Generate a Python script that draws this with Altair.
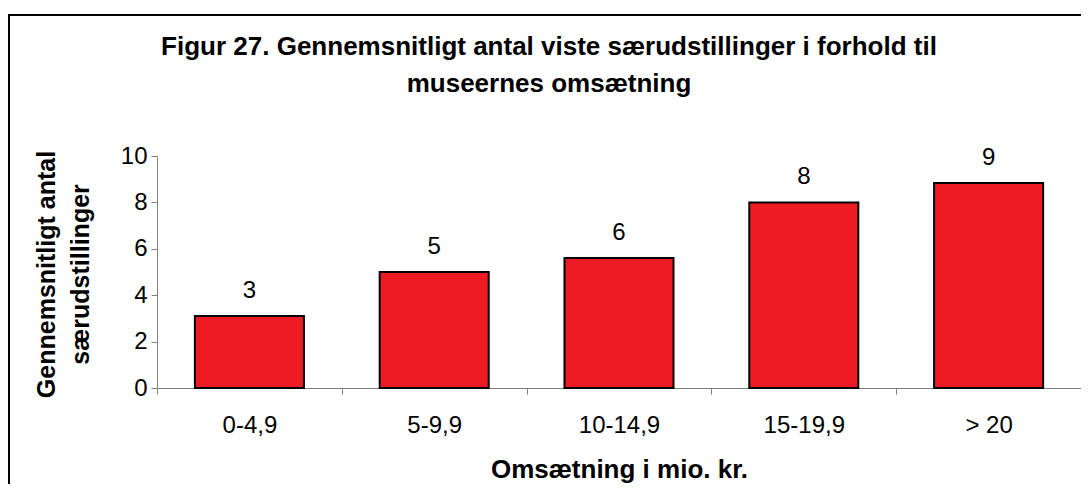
import altair as alt
import pandas as pd

categories = ["0-4,9", "5-9,9", "10-14,9", "15-19,9", "> 20"]
values = [3.1, 5.0, 5.6, 8.0, 8.84]
title_lines = ["Figur 27. Gennemsnitligt antal viste særudstillinger i forhold til",
               "museernes omsætning"]
y_title = ["Gennemsnitligt antal", "særudstillinger"]
x_title = "Omsætning i mio. kr."

FONT = "Liberation Sans"
W, H = 924, 232

df = pd.DataFrame({"cat": categories, "val": values})

x = alt.X("cat:N", sort=categories,
          scale=alt.Scale(paddingInner=0, paddingOuter=0),
          axis=alt.Axis(title=x_title, tickBand="extent", labelAngle=0,
                        labelFont=FONT, labelFontSize=24, labelColor="black",
                        labelBaseline="middle", labelPadding=31,
                        tickSize=6, tickColor="#808080", domainColor="#808080",
                        titleFont=FONT, titleFontSize=26, titleFontWeight="bold",
                        titleColor="black", titleY=81, titleBaseline="middle"))
y = alt.Y("val:Q", scale=alt.Scale(domain=[0, 10], nice=False),
          axis=alt.Axis(title=y_title, values=[0, 2, 4, 6, 8, 10], grid=False,
                        labelFont=FONT, labelFontSize=24, labelColor="black",
                        labelPadding=4, tickSize=6, tickColor="#808080",
                        domainColor="#808080",
                        titleFont=FONT, titleFontSize=25, titleFontWeight="bold",
                        titleColor="black", titleAngle=-90, titleX=-111, titleY=118,
                        titleAlign="center", titleBaseline="middle",
                        titleLineHeight=34))

base = alt.Chart(df)
bars = base.mark_bar(color="#ED1C24", stroke="black", strokeWidth=2,
                     width=alt.RelativeBandSize(0.59)).encode(x=x, y=y)
labels = base.mark_text(font=FONT, fontSize=24, color="black",
                        baseline="alphabetic", dy=-18).encode(
    x=alt.X("cat:N", sort=categories), y="val:Q",
    text=alt.Text("val:Q", format=".0f"))

tdf = pd.DataFrame({"t": title_lines, "yy": [-109, -72]})
title = alt.Chart(tdf).mark_text(font=FONT, fontSize=26, fontWeight="bold",
                                 color="black", baseline="middle").encode(
    text="t:N", x=alt.value(392), y=alt.Y("yy:Q", scale=None))

frame = alt.Chart(pd.DataFrame({"k": [0]})).mark_rect(
    fill=None, stroke="black", strokeWidth=2).encode(
    x=alt.value(-148), x2=alt.value(1000), y=alt.value(-141), y2=alt.value(500))

chart = alt.layer(frame, bars, labels, title).properties(
    width=W, height=H,
    autosize=alt.AutoSizeParams(type="none"),
    padding={"left": 149, "top": 148, "right": 0, "bottom": 96},
).configure_view(stroke=None)

chart.save("out.html", embed_options={"renderer": "svg", "actions": False})
